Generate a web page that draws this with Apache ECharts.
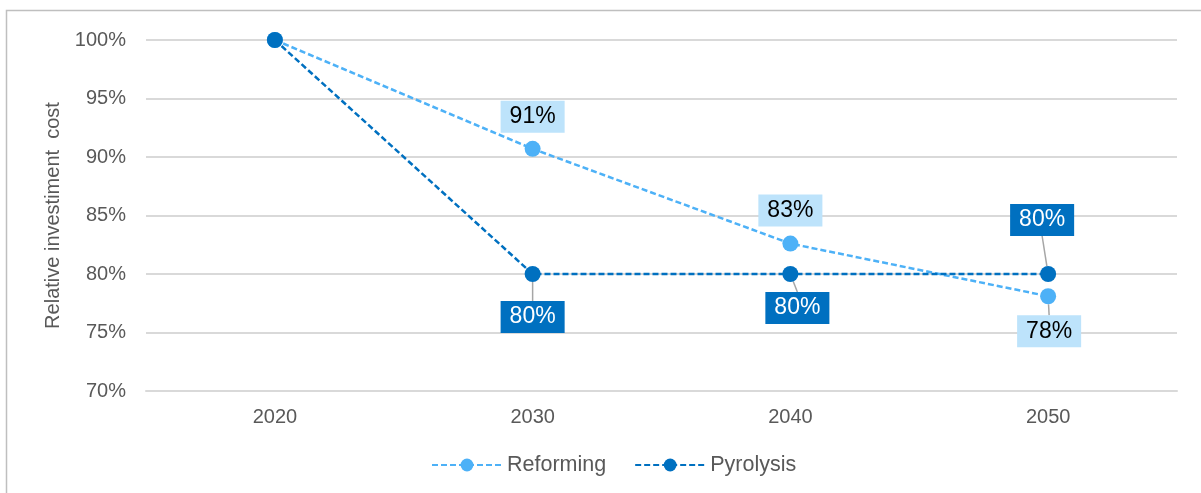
<!DOCTYPE html>
<html>
<head>
<meta charset="utf-8">
<script src="https://cdn.jsdelivr.net/npm/echarts@6/dist/echarts.min.js"></script>
<style>
html,body{margin:0;padding:0;background:#fff;}
#c{width:1201px;height:493px;}
</style>
</head>
<body>
<div id="c"></div>
<script>
const categories = ['2020', '2030', '2040', '2050'];
const reforming = [100, 90.7, 82.6, 78.1];
const pyrolysis = [100, 80, 80, 80];
const reformingLabels = [null, '91%', '83%', '78%'];
const pyrolysisLabels = [null, '80%', '80%', '80%'];

// label offsets (style only): centre of label relative to point, and leader line visibility
const refOffsets = [[0,0],[0,-32],[0,-33],[1,35]];
const pyrOffsets = [[0,0],[0,43],[7,34],[-6,-54]];
const refLeader = [false, false, false, true];
const pyrLeader = [false, true, true, true];

const lightBlue = '#4DB1F7';
const darkBlue = '#0070C0';
const FONT = 'Liberation Sans, Arial, sans-serif';

const chart = echarts.init(document.getElementById('c'), null, {renderer:'canvas'});

function mkSeries(name, values, labels, color, bg, txt, offsets, leader){
  return {
    name: name,
    type: 'line',
    data: values.map((v,i)=>({
      value: v,
      label: labels[i] ? {show:true, formatter: labels[i]} : {show:false},
      labelLine: {show: leader[i]}
    })),
    symbol: 'circle',
    symbolSize: 16,
    itemStyle: {color: color},
    lineStyle: {color: color, width: 2.5, type: [6,3]},
    label: {
      position: 'inside',
      fontFamily: FONT,
      fontSize: 23,
      color: txt,
      backgroundColor: bg,
      padding: [5, 9, 4, 9]
    },
    labelLine: {show: true, lineStyle: {color: '#A6A6A6', width: 1.5}},
    labelLayout: function(p){
      const o = offsets[p.dataIndex];
      return {dx: o[0], dy: o[1]};
    },
    emphasis: {disabled: true},
    animation: false
  };
}

chart.setOption({
  animation: false,
  graphic: [{
    type: 'rect',
    shape: {x: 6.5, y: 10.5, width: 1400, height: 700},
    style: {fill: 'none', stroke: '#BFBFBF', lineWidth: 1.5},
    silent: true
  }],
  grid: {left: 146, right: 24, top: 40, bottom: 102},
  legend: {
    data: ['Reforming', 'Pyrolysis'],
    bottom: 12,
    left: 426,
    itemWidth: 70,
    itemHeight: 16,
    itemGap: 28,
    textStyle: {fontFamily: FONT, fontSize: 21.5, color: '#595959'}
  },
  xAxis: {
    type: 'category',
    data: categories,
    boundaryGap: true,
    axisLine: {lineStyle: {color: '#D9D9D9', width: 2}},
    axisTick: {show: false},
    axisLabel: {fontFamily: FONT, fontSize: 20, color: '#595959', margin: 16}
  },
  yAxis: {
    type: 'value',
    min: 70, max: 100, interval: 5,
    name: 'Relative investiment  cost',
    nameLocation: 'middle',
    nameGap: 82,
    nameTextStyle: {fontFamily: FONT, fontSize: 20, color: '#595959'},
    axisLine: {show: false},
    axisTick: {show: false},
    splitLine: {lineStyle: {color: '#D9D9D9', width: 2}},
    axisLabel: {formatter: '{value}%', fontFamily: FONT, fontSize: 20, color: '#595959', margin: 20}
  },
  series: [
    mkSeries('Reforming', reforming, reformingLabels, lightBlue, '#BDE3FB', '#000000', refOffsets, refLeader),
    mkSeries('Pyrolysis', pyrolysis, pyrolysisLabels, darkBlue, darkBlue, '#FFFFFF', pyrOffsets, pyrLeader)
  ]
});
</script>
</body>
</html>
